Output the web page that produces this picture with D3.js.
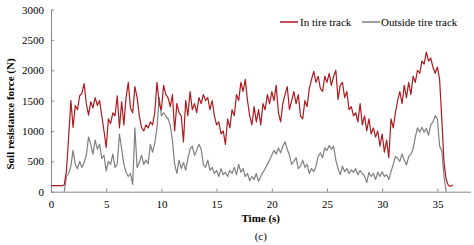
<!DOCTYPE html>
<html><head><meta charset="utf-8">
<script src="https://cdn.jsdelivr.net/npm/d3@7"></script>
<style>body{margin:0;background:#fff}svg{display:block}</style>
</head><body>
<script>
const times = [0,0.2,0.4,0.6,0.8,1,1.2,1.4,1.6,1.8,2,2.2,2.4,2.6,2.8,3,3.2,3.4,3.6,3.8,4,4.2,4.4,4.6,4.8,5,5.2,5.4,5.6,5.8,6,6.2,6.4,6.6,6.8,7,7.2,7.4,7.6,7.8,8,8.2,8.4,8.6,8.8,9,9.2,9.4,9.6,9.8,10,10.2,10.4,10.6,10.8,11,11.2,11.4,11.6,11.8,12,12.2,12.4,12.6,12.8,13,13.2,13.4,13.6,13.8,14,14.2,14.4,14.6,14.8,15,15.2,15.4,15.6,15.8,16,16.2,16.4,16.6,16.8,17,17.2,17.4,17.6,17.8,18,18.2,18.4,18.6,18.8,19,19.2,19.4,19.6,19.8,20,20.2,20.4,20.6,20.8,21,21.2,21.4,21.6,21.8,22,22.2,22.4,22.6,22.8,23,23.2,23.4,23.6,23.8,24,24.2,24.4,24.6,24.8,25,25.2,25.4,25.6,25.8,26,26.2,26.4,26.6,26.8,27,27.2,27.4,27.6,27.8,28,28.2,28.4,28.6,28.8,29,29.2,29.4,29.6,29.8,30,30.2,30.4,30.6,30.8,31,31.2,31.4,31.6,31.8,32,32.2,32.4,32.6,32.8,33,33.2,33.4,33.6,33.8,34,34.2,34.4,34.6,34.8,35,35.2,35.4,35.6,35.8,36,36.2,36.4];
const inTireTrack = [100,100,100,100,100,100,110,350,900,1500,1060,1420,1350,1580,1620,1780,1450,1260,1480,1380,1550,1420,1500,1250,1000,730,1200,1120,1300,1250,1580,1050,1480,1100,1550,1800,1380,1300,1730,1550,1250,1060,1000,1100,1050,1150,1100,1300,1800,1450,1350,1750,1600,1550,1400,1600,1000,1450,1300,1250,820,1500,1250,1650,1350,1450,1300,1550,1450,1600,1500,1550,1350,1500,1250,1100,1150,950,1000,780,1200,1050,1350,1250,1600,1500,1800,1650,1850,1500,1250,1100,1400,1150,1350,1100,1450,1350,1600,1450,1650,1500,1750,1300,1150,1450,1600,1730,1350,1500,1650,1450,1600,1250,1200,1500,1400,1700,1850,1980,1800,1900,1700,1650,1900,1800,1950,1750,1900,2000,1520,1750,1800,1550,1650,1350,1400,1250,1300,1150,1450,1100,1250,1000,1200,950,1050,900,1000,750,950,650,850,560,1200,1050,1300,1500,1650,1450,1750,1550,1800,1600,1900,1800,2000,1950,2150,2100,2300,2150,2200,2050,1950,2050,1850,1200,480,200,100,90,110];
const outsideTireTrack = [null,null,null,null,null,null,0,250,300,420,680,450,380,500,400,480,600,900,780,620,850,700,780,550,600,340,500,450,620,400,460,950,700,450,320,250,300,120,1050,400,480,600,450,520,460,780,650,800,1050,1550,1250,1300,1250,1200,1100,850,450,300,520,380,480,350,550,700,750,600,680,780,700,450,400,520,350,400,300,350,250,380,280,320,250,350,300,400,280,450,320,380,250,300,180,250,200,300,170,250,320,380,450,520,600,680,620,720,640,750,820,700,600,450,500,560,380,420,520,400,450,300,380,330,420,580,640,560,720,680,760,700,750,520,380,280,420,330,380,300,360,320,380,280,350,300,260,150,320,250,300,200,320,250,330,250,280,200,330,450,580,550,500,620,520,440,580,620,700,900,1050,980,1060,980,1040,930,1100,1150,1250,1200,750,680,250,0,null,null,null];
const xTicks = [0,5,10,15,20,25,30,35];
const yTicks = [0,500,1000,1500,2000,2500,3000];
const seriesNames = ["In tire track","Outside tire track"];
const seriesColors = ["#ad1a1f","#7f7f7f"];

const FONT = "'Liberation Serif', 'Times New Roman', Times, serif";
const W=474,H=245;
const svg=d3.select("body").append("svg").attr("width",W).attr("height",H)
  .attr("font-family",FONT);
const x=d3.scaleLinear().domain([0,38]).range([51,470.5]);
const y=d3.scaleLinear().domain([0,3000]).range([191.7,9.5]);
const axisColor="#868686";

const xa=svg.append("g").attr("transform",`translate(0,${y(0)})`)
  .call(d3.axisBottom(x).tickValues(xTicks).tickFormat(d3.format("d")).tickSize(-3).tickPadding(9).tickSizeOuter(0));
const ya=svg.append("g").attr("transform",`translate(${x(0)},0)`)
  .call(d3.axisLeft(y).tickValues(yTicks).tickFormat(d3.format("d")).tickSize(-3).tickPadding(7).tickSizeOuter(0));
[xa,ya].forEach(g=>{
  g.attr("font-family",FONT).attr("font-size",11);
  g.select(".domain").attr("stroke",axisColor).attr("stroke-width",1);
  g.selectAll(".tick line").attr("stroke",axisColor);
  g.selectAll(".tick text").attr("fill","#000");
});

const series=[outsideTireTrack,inTireTrack];
const cols=[seriesColors[1],seriesColors[0]];
series.forEach((vals,si)=>{
  const line=d3.line().defined((d,i)=>vals[i]!==null).x((d,i)=>x(times[i])).y((d,i)=>y(vals[i]));
  svg.append("path").datum(vals).attr("fill","none").attr("stroke",cols[si])
    .attr("stroke-width",1.2).attr("stroke-linejoin","round").attr("d",line);
});

// legend
const leg=[{x:280,tx:300},{x:362,tx:381}];
seriesNames.forEach((n,i)=>{
  svg.append("line").attr("x1",leg[i].x).attr("x2",leg[i].x+18).attr("y1",22).attr("y2",22)
    .attr("stroke",seriesColors[i]).attr("stroke-width",1.5);
  svg.append("text").attr("x",leg[i].tx).attr("y",26).attr("font-size",11).text(n);
});

svg.append("text").attr("x",x(19)).attr("y",222).attr("text-anchor","middle")
  .attr("font-size",11).attr("font-weight","bold").text("Time (s)");
svg.append("text").attr("x",x(19)).attr("y",240).attr("text-anchor","middle")
  .attr("font-size",11).text("(c)");
svg.append("text").attr("transform","translate(14,114) rotate(-90)").attr("text-anchor","middle")
  .attr("font-size",11).attr("font-weight","bold").text("Soil resistance force (N)");
</script>
</body></html>
